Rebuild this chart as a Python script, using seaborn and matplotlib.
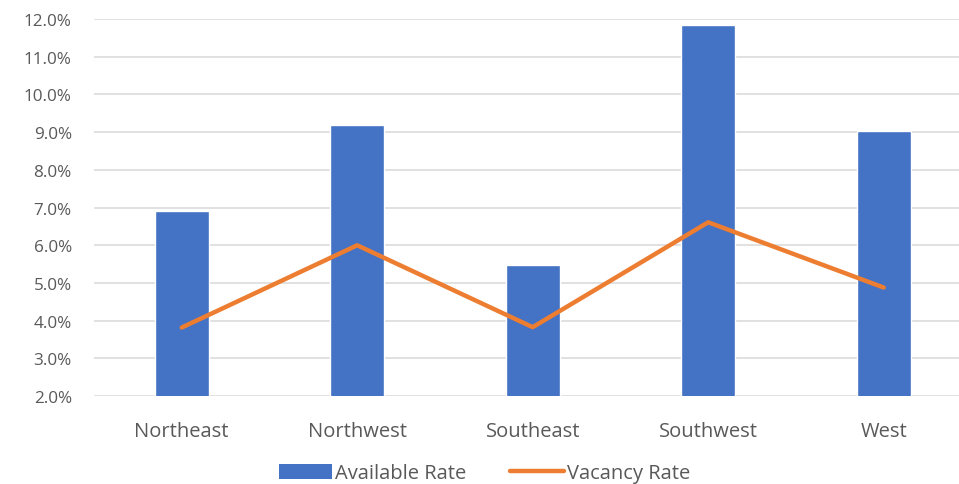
import matplotlib
matplotlib.use("Agg")
import matplotlib.pyplot as plt
from matplotlib.lines import Line2D
from matplotlib.patches import Patch
from matplotlib.ticker import PercentFormatter, MultipleLocator
import pandas as pd
import seaborn as sns

# data
regions = ["Northeast", "Northwest", "Southeast", "Southwest", "West"]
available_rate = [0.0690, 0.0920, 0.0547, 0.1185, 0.0903]
vacancy_rate = [0.0382, 0.0600, 0.0383, 0.0661, 0.0488]

BLUE = "#4472C4"
ORANGE = "#ED7D31"
GRID = "#D9D9D9"
TEXT = "#595959"

sns.set_style("white")
plt.rcParams["font.family"] = ["Open Sans", "DejaVu Sans"]

df = pd.DataFrame({"region": regions, "available": available_rate, "vacancy": vacancy_rate})

fig = plt.figure(figsize=(9.59, 4.85), dpi=100)
ax = fig.add_axes([0.098, 0.181, 0.915, 0.778])

sns.barplot(data=df, x="region", y="available", color=BLUE, width=0.31,
            saturation=1, ax=ax, zorder=2)
sns.lineplot(data=df, x="region", y="vacancy", color=ORANGE, lw=3.2,
             ax=ax, zorder=3, sort=False)

ax.set_ylim(0.02, 0.12)
ax.set_xlim(-0.5, 4.5)
ax.yaxis.set_major_locator(MultipleLocator(0.01))
ax.yaxis.set_major_formatter(PercentFormatter(1.0, decimals=1))
ax.grid(axis="y", color=GRID, lw=1.1, zorder=0)
ax.set_axisbelow(True)
for s in ax.spines.values():
    s.set_visible(False)
ax.set_xlabel("")
ax.set_ylabel("")
ax.tick_params(axis="y", length=0, pad=16, labelsize=12.3, labelcolor=TEXT)
ax.tick_params(axis="x", length=0, pad=17.5, labelsize=14.5, labelcolor=TEXT)

handles = [
    Patch(facecolor=BLUE, edgecolor="none", label="Available Rate"),
    Line2D([0], [0], color=ORANGE, lw=3.2, label="Vacancy Rate"),
]
fig.legend(handles=handles, loc="center", bbox_to_anchor=(0.505, 0.022), ncol=2,
           frameon=False, fontsize=14.5, handlelength=2.65, handleheight=0.8,
           handletextpad=0.15, columnspacing=2.2, labelcolor=TEXT)

fig.savefig("out.png", dpi=100)
